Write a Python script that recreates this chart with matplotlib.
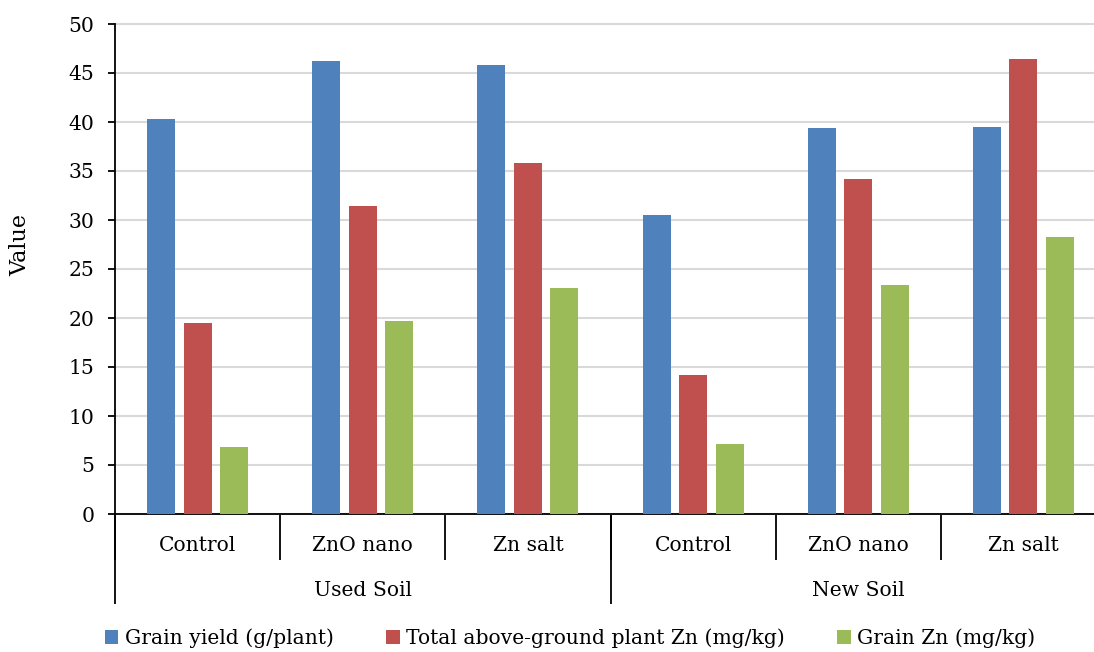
import numpy as np
import matplotlib
matplotlib.use("Agg")
from matplotlib import pyplot as plt

treatments = ["Control", "ZnO nano", "Zn salt", "Control", "ZnO nano", "Zn salt"]
soils = ["Used Soil", "New Soil"]
series_names = ["Grain yield (g/plant)", "Total above-ground plant Zn (mg/kg)", "Grain Zn (mg/kg)"]
grain_yield = [40.3, 46.2, 45.8, 30.5, 39.4, 39.5]
plant_zn = [19.5, 31.4, 35.8, 14.2, 34.2, 46.4]
grain_zn = [6.8, 19.7, 23.1, 7.1, 23.4, 28.3]
colors = ["#4f81bd", "#c0504d", "#9bbb59"]

plt.rcParams['font.family'] = ['DejaVu Serif']
plt.rcParams['font.size'] = 14.6

W, H = 1094, 652
fig = plt.figure(figsize=(W / 100, H / 100), dpi=100)
# plot area runs a little past the right edge, like the original
ax = fig.add_axes([115 / W, (H - 514) / H, 991 / W, 490 / H])

x = np.arange(len(treatments)) + 0.5
bw = 0.17
step = 0.221
for i, vals in enumerate([grain_yield, plant_zn, grain_zn]):
    ax.bar(x + (i - 1) * step, vals, bw, color=colors[i], label=series_names[i], zorder=3)

ax.set_xlim(0, 6)
ax.set_ylim(0, 50)
ax.set_yticks(range(0, 51, 5))
ax.yaxis.grid(True, color="#d9d9d9", linewidth=1.5, zorder=0)
for gl in ax.get_ygridlines():
    gl.set_clip_on(False)
ax.tick_params(axis='y', length=5, width=1.3, pad=10)
for s in ['top', 'right']:
    ax.spines[s].set_visible(False)
ax.spines['left'].set_linewidth(1.3)
ax.spines['bottom'].set_linewidth(1.3)

# first level: treatments
ax.set_xticks(range(7))
ax.set_xticklabels([])
ax.tick_params(axis='x', which='major', length=33, width=1.3)
ax.set_xticks(x, treatments, minor=True)
ax.tick_params(axis='x', which='minor', length=0, pad=16)

# second level: soil
sec = ax.secondary_xaxis('bottom')
sec.spines['bottom'].set_visible(False)
sec.set_xticks([0, 3, 6])
sec.set_xticklabels([])
sec.tick_params(axis='x', which='major', length=65, width=1.3)
sec.set_xticks([1.5, 4.5], soils, minor=True)
sec.tick_params(axis='x', which='minor', length=0, pad=48)

ax.set_ylabel("Value", fontsize=16)
ax.yaxis.set_label_coords(-84 / 991, 0.55)

ax.legend(loc='center', bbox_to_anchor=(570 / W, 14 / H), bbox_transform=fig.transFigure,
          ncol=3, frameon=False, handlelength=0.67, handleheight=0.67,
          handletextpad=0.3, columnspacing=2.6)

fig.savefig("out.png", dpi=100)
